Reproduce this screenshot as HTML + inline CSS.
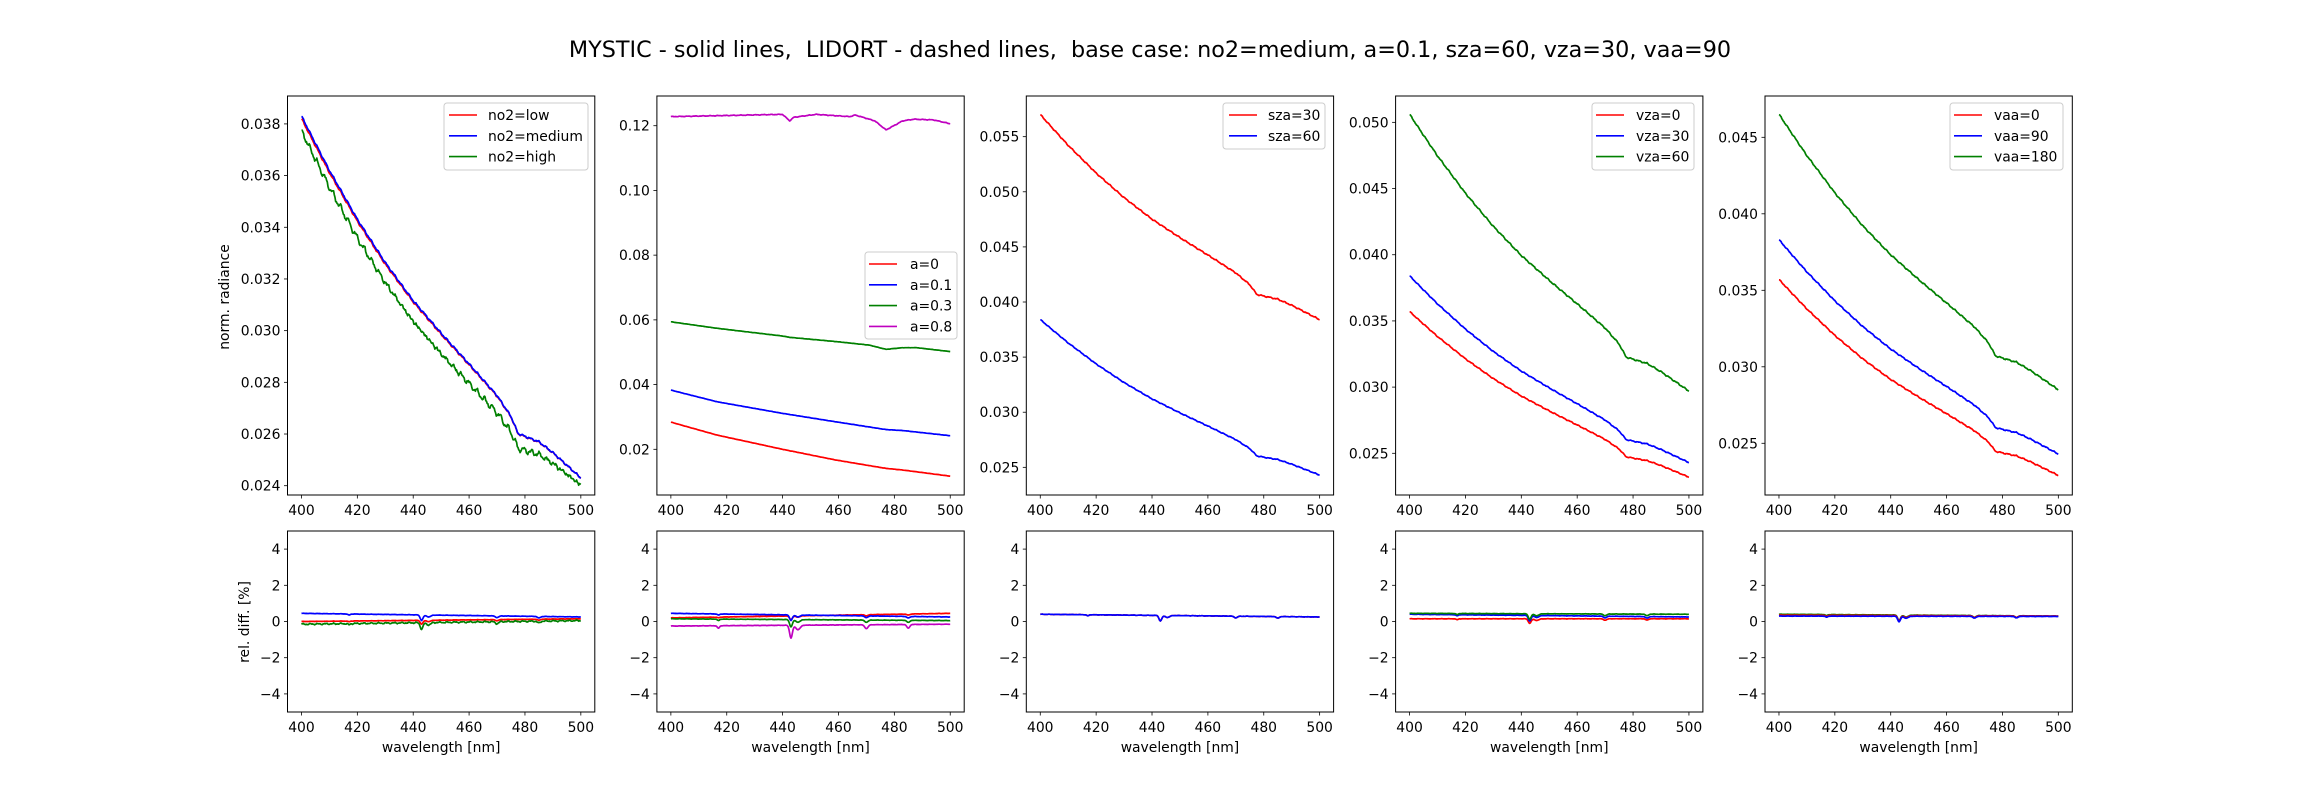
<!DOCTYPE html>
<html><head><meta charset="utf-8">
<style>
html,body{margin:0;padding:0;background:#fff;}
svg text{font-family:"DejaVu Sans","Liberation Sans",sans-serif;fill:#000;}
</style></head>
<body>
<div id="c" style="width:2300px;height:800px;"></div>
<script>
const L=[287.5,656.9,1026.3,1395.6,1765],W=307.3;
const TY0=96,TY1=495,BY0=531,BY1=712;
function X(i,l){return L[i]+(l-395)/110*W;}
function interp(pts,l){for(let k=0;k<pts.length-1;k++){if(l<=pts[k+1][0]){const t=(l-pts[k][0])/(pts[k+1][0]-pts[k][0]);return pts[k][1]+t*(pts[k+1][1]-pts[k][1]);}}return pts[pts.length-1][1];}
const S=[[400,1],[410,0.85],[420,0.715],[430,0.595],[440,0.49],[450,0.4],[460,0.315],[470,0.228],[475,0.17],[477.5,0.123],[480,0.115],[485,0.1],[490,0.07],[500,0]];
function noise(l,a){return a*(Math.sin(l*2.31)*0.5+Math.sin(l*5.13+1.3)*0.3+Math.sin(l*11.7+0.4)*0.2);}
function shapeF(a,b,amp){return l=>b+(a-b)*interp(S,l)+noise(l,amp||0.00005);}
function ptsF(p,amp){return l=>interp(p,l)+noise(l,amp||0.00004);}
function g(l,c,w){return Math.exp(-((l-c)*(l-c))/(2*w*w));}
function relF(a,b,d,amp){return l=>a+(b-a)*(l-400)/100 - d*(g(l,443,0.5)*1+g(l,445.5,0.8)*0.35+g(l,417,0.4)*0.2+g(l,470,0.6)*0.3+g(l,485,0.5)*0.3)+noise(l,amp||0.01);}
const R='#ff0000',B='#0000ff',G='#008000',M='#bf00bf';
const panels=[
 {ymin:0.02364,ymax:0.03908,ticks:[0.024,0.026,0.028,0.030,0.032,0.034,0.036,0.038],dec:3,
  series:[[R,shapeF(0.0382,0.0243)],[B,shapeF(0.0383,0.0243)],[G,l=>shapeF(0.0378,0.0241,0.00012)(l)-0.0004*Math.sin(Math.PI*(l-400)/100)-0.00012*Math.abs(Math.sin(l*1.1))]],
  leg:{x0:444,x1:588,y0:103,y1:170,lx:449,tx:488,labels:['no2=low','no2=medium','no2=high'],cols:[R,B,G]},
  rel:[[R,relF(0.0,0.15,0.2)],[B,relF(0.45,0.25,0.3)],[G,relF(-0.15,0.05,0.35,0.05)]]},
 {ymin:0.00588,ymax:0.12918,ticks:[0.02,0.04,0.06,0.08,0.10,0.12],dec:2,
  series:[[R,ptsF([[400,0.0284],[416.5,0.0244],[440,0.0200],[459,0.0167],[477,0.0141],[483,0.0136],[500,0.0117]])],
   [B,ptsF([[400,0.0383],[416.5,0.0347],[440,0.0311],[459,0.0285],[477,0.0261],[483,0.0258],[500,0.0242]])],
   [G,ptsF([[400,0.0594],[416.5,0.0574],[440,0.055],[442.5,0.0546],[459,0.0533],[471,0.0522],[477,0.0509],[483,0.0514],[488,0.0514],[500,0.0502]])],
   [M,ptsF([[400,0.1228],[428,0.1233],[440,0.1235],[442.5,0.1215],[444,0.1226],[452,0.1235],[464,0.1228],[466,0.1233],[473,0.1215],[477,0.1187],[483,0.1215],[487,0.122],[494,0.1218],[500,0.1206]],0.00012)]],
  leg:{x0:865,x1:957,y0:252,y1:339,lx:869,tx:910,labels:['a=0','a=0.1','a=0.3','a=0.8'],cols:[R,B,G,M]},
  rel:[[R,relF(0.2,0.45,0.2)],[B,relF(0.45,0.25,0.3)],[G,relF(0.15,0.05,0.4)],[M,relF(-0.25,-0.15,0.7)]]},
 {ymin:0.02249,ymax:0.05869,ticks:[0.025,0.030,0.035,0.040,0.045,0.050,0.055],dec:3,
  series:[[R,shapeF(0.0570,0.0384,0.00007)],[B,shapeF(0.0384,0.0243)]],
  leg:{x0:1223,x1:1325,y0:103,y1:149,lx:1229,tx:1268,labels:['sza=30','sza=60'],cols:[R,B]},
  rel:[[R,relF(0.4,0.25,0.3)],[B,relF(0.4,0.25,0.3)]]},
 {ymin:0.02185,ymax:0.05199,ticks:[0.025,0.030,0.035,0.040,0.045,0.050],dec:3,
  series:[[R,shapeF(0.0357,0.0232)],[B,shapeF(0.0384,0.0243)],[G,shapeF(0.0506,0.0297,0.00007)]],
  leg:{x0:1592,x1:1694,y0:103,y1:170,lx:1596,tx:1636,labels:['vza=0','vza=30','vza=60'],cols:[R,B,G]},
  rel:[[R,relF(0.15,0.15,0.25)],[B,relF(0.4,0.25,0.3)],[G,relF(0.45,0.4,0.3)]]},
 {ymin:0.02162,ymax:0.0477,ticks:[0.025,0.030,0.035,0.040,0.045],dec:3,
  series:[[R,shapeF(0.0357,0.0229)],[B,shapeF(0.0383,0.0243)],[G,shapeF(0.0465,0.0285,0.00006)]],
  leg:{x0:1950,x1:2063,y0:103,y1:170,lx:1954,tx:1994,labels:['vaa=0','vaa=90','vaa=180'],cols:[R,B,G]},
  rel:[[G,relF(0.4,0.3,0.3)],[R,relF(0.35,0.3,0.3)],[B,relF(0.3,0.28,0.3)]]}
];
let s='<svg xmlns="http://www.w3.org/2000/svg" width="2300" height="800" viewBox="0 0 2300 800">';
s+='<rect width="2300" height="800" fill="#fff"/>';
s+='<text x="1150" y="57" font-size="22.3" text-anchor="middle" style="white-space:pre" xml:space="preserve">MYSTIC - solid lines,  LIDORT - dashed lines,  base case: no2=medium, a=0.1, sza=60, vza=30, vaa=90</text>';
function path(i,f,yf,col){let d='';for(let l=400;l<=500.001;l+=0.25){const x=X(i,l),y=yf(f(l));d+=(d?'L':'M')+x.toFixed(1)+','+y.toFixed(1);}return '<path d="'+d+'" fill="none" stroke="'+col+'" stroke-width="1.7" stroke-linejoin="round"/>';}
panels.forEach((p,i)=>{
 const ty=v=>TY0+(p.ymax-v)/(p.ymax-p.ymin)*(TY1-TY0);
 const by=v=>BY0+(5-v)/10*(BY1-BY0);
 s+='<svg x="'+L[i]+'" y="'+TY0+'" width="'+W+'" height="'+(TY1-TY0)+'" overflow="hidden"><g transform="translate('+(-L[i])+','+(-TY0)+')">';
 p.series.forEach(([c,f])=>{s+=path(i,f,ty,c);});
 s+='</g></svg>';
 s+='<svg x="'+L[i]+'" y="'+BY0+'" width="'+W+'" height="'+(BY1-BY0)+'" overflow="hidden"><g transform="translate('+(-L[i])+','+(-BY0)+')">';
 p.rel.forEach(([c,f])=>{s+=path(i,f,by,c);});
 s+='</g></svg>';
 [[TY0,TY1],[BY0,BY1]].forEach(([a,b])=>{s+='<rect x="'+L[i]+'" y="'+a+'" width="'+W+'" height="'+(b-a)+'" fill="none" stroke="#000" stroke-width="1"/>';});
 for(let l=400;l<=500;l+=20){const x=X(i,l);[TY1,BY1].forEach(b=>{s+='<line x1="'+x+'" y1="'+b+'" x2="'+x+'" y2="'+(b+3.5)+'" stroke="#000" stroke-width="0.8"/><text x="'+x+'" y="'+(b+20)+'" font-size="13.9" text-anchor="middle">'+l+'</text>';});}
 p.ticks.forEach(v=>{const y=ty(v);s+='<line x1="'+(L[i]-3.5)+'" y1="'+y+'" x2="'+L[i]+'" y2="'+y+'" stroke="#000" stroke-width="0.8"/><text x="'+(L[i]-7)+'" y="'+(y+5)+'" font-size="13.9" text-anchor="end">'+v.toFixed(p.dec)+'</text>';});
 [-4,-2,0,2,4].forEach(v=>{const y=by(v);s+='<line x1="'+(L[i]-3.5)+'" y1="'+y+'" x2="'+L[i]+'" y2="'+y+'" stroke="#000" stroke-width="0.8"/><text x="'+(L[i]-7)+'" y="'+(y+5)+'" font-size="13.9" text-anchor="end">'+(v<0?'\u2212'+(-v):v)+'</text>';});
 s+='<text x="'+(L[i]+W/2)+'" y="752" font-size="13.9" text-anchor="middle">wavelength [nm]</text>';
 const lg=p.leg;
 s+='<rect x="'+lg.x0+'" y="'+lg.y0+'" width="'+(lg.x1-lg.x0)+'" height="'+(lg.y1-lg.y0)+'" rx="3" fill="#fff" fill-opacity="0.8" stroke="#cccccc" stroke-width="1"/>';
 lg.labels.forEach((t,k)=>{const y=lg.y0+12+k*20.8;s+='<line x1="'+lg.lx+'" y1="'+y+'" x2="'+(lg.lx+28)+'" y2="'+y+'" stroke="'+lg.cols[k]+'" stroke-width="1.6"/><text x="'+lg.tx+'" y="'+(y+5)+'" font-size="13.9">'+t+'</text>';});
});
s+='<text transform="translate(229,297) rotate(-90)" font-size="13.9" text-anchor="middle">norm. radiance</text>';
s+='<text transform="translate(249,622) rotate(-90)" font-size="13.9" text-anchor="middle">rel. diff. [%]</text>';
s+='</svg>';
document.getElementById('c').innerHTML=s;
</script>
</body></html>
